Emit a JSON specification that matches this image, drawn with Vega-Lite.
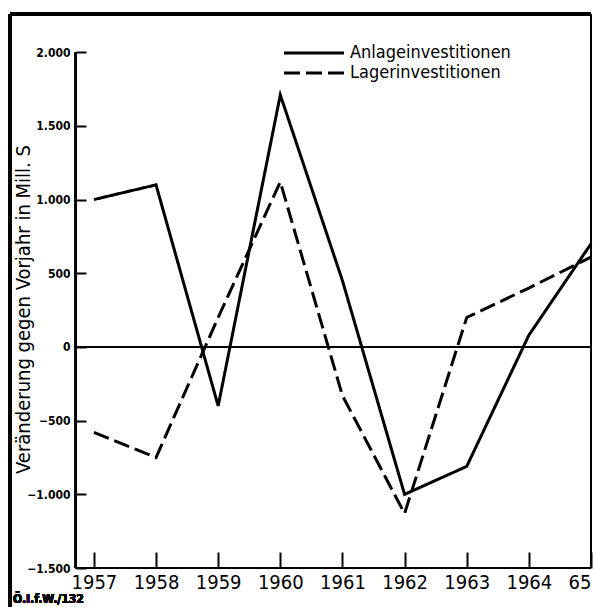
{
  "$schema": "https://vega.github.io/schema/vega-lite/v6.json",
  "width": 581,
  "height": 593,
  "autosize": {"type": "none"},
  "padding": {"left": 10, "top": 14, "right": 4, "bottom": 0},
  "background": "white",
  "config": {
    "font": "DejaVu Sans Condensed",
    "view": {"stroke": null}
  },
  "data": {
    "values": [
      {"year": 1957, "series": "Anlageinvestitionen", "value": 1000},
      {"year": 1958, "series": "Anlageinvestitionen", "value": 1100},
      {"year": 1959, "series": "Anlageinvestitionen", "value": -400},
      {"year": 1960, "series": "Anlageinvestitionen", "value": 1710},
      {"year": 1961, "series": "Anlageinvestitionen", "value": 450},
      {"year": 1962, "series": "Anlageinvestitionen", "value": -1000},
      {"year": 1963, "series": "Anlageinvestitionen", "value": -810},
      {"year": 1964, "series": "Anlageinvestitionen", "value": 80},
      {"year": 1965, "series": "Anlageinvestitionen", "value": 700},
      {"year": 1957, "series": "Lagerinvestitionen", "value": -580},
      {"year": 1958, "series": "Lagerinvestitionen", "value": -750},
      {"year": 1959, "series": "Lagerinvestitionen", "value": 200},
      {"year": 1960, "series": "Lagerinvestitionen", "value": 1120},
      {"year": 1961, "series": "Lagerinvestitionen", "value": -330},
      {"year": 1962, "series": "Lagerinvestitionen", "value": -1130},
      {"year": 1963, "series": "Lagerinvestitionen", "value": 200},
      {"year": 1964, "series": "Lagerinvestitionen", "value": 400},
      {"year": 1965, "series": "Lagerinvestitionen", "value": 610}
    ]
  },
  "layer": [
    {
      "mark": {"type": "line", "color": "black", "strokeWidth": 3, "strokeJoin": "miter"},
      "encoding": {
        "x": {
          "field": "year", "type": "quantitative",
          "scale": {"domain": [1955.65, 1965], "nice": false, "zero": false},
          "axis": {
            "title": null, "grid": false, "domain": false,
            "values": [1957, 1958, 1959, 1960, 1961, 1962, 1963, 1964, 1965],
            "labelExpr": "datum.value == 1965 ? '65' : '' + datum.value",
            "labelFlush": true,
            "offset": -39, "tickSize": -16, "tickWidth": 2, "tickColor": "black",
            "labelPadding": 20, "labelFontSize": 20, "labelColor": "black",
            "labelFont": "DejaVu Sans Condensed"
          }
        },
        "y": {
          "field": "value", "type": "quantitative",
          "scale": {"domain": [-1764, 2259], "nice": false, "zero": false},
          "axis": {
            "title": "Veränderung gegen Vorjahr in Mill. S",
            "titleFontSize": 20, "titleFontWeight": "normal", "titleColor": "black",
            "titleX": -47, "titleY": 295, "titleBaseline": "alphabetic", "titleAngle": -90,
            "grid": false, "domain": false,
            "values": [-1500, -1000, -500, 0, 500, 1000, 1500, 2000],
            "labelExpr": "replace(format(datum.value, ','), ',', '.')",
            "offset": -66, "tickSize": -10, "tickWidth": 2, "tickColor": "black",
            "labelPadding": 16, "labelFontSize": 12, "labelFontWeight": "bold", "labelColor": "black"
          }
        },
        "strokeDash": {
          "field": "series", "type": "nominal",
          "scale": {"domain": ["Anlageinvestitionen", "Lagerinvestitionen"], "range": [[1, 0], [16, 6]]},
          "legend": {
            "title": null, "orient": "none", "legendX": 295, "legendY": 30,
            "symbolType": "M-6,0H6", "symbolSize": 100, "symbolStrokeWidth": 3,
            "symbolStrokeColor": "black", "labelOffset": 27, "labelFontSize": 18,
            "labelLimit": 400,
            "labelColor": "black", "rowPadding": 2
          }
        },
        "detail": {"field": "series"}
      }
    },
    {
      "mark": {"type": "rule", "color": "black", "strokeWidth": 2},
      "encoding": {
        "x": {"datum": 1956.71, "type": "quantitative"},
        "y": {"datum": 2000, "type": "quantitative"},
        "y2": {"datum": -1500}
      }
    },
    {
      "mark": {"type": "rule", "color": "black", "strokeWidth": 2},
      "encoding": {
        "x": {"datum": 1956.71, "type": "quantitative"},
        "x2": {"datum": 1965},
        "y": {"datum": -1500, "type": "quantitative"}
      }
    },
    {
      "mark": {"type": "rule", "color": "black", "strokeWidth": 1.5},
      "encoding": {
        "x": {"datum": 1956.71, "type": "quantitative"},
        "x2": {"datum": 1965},
        "y": {"datum": 0, "type": "quantitative"}
      }
    },
    {
      "mark": {"type": "rule", "color": "black", "strokeWidth": 2.5},
      "encoding": {
        "x": {"datum": 1955.65, "type": "quantitative"},
        "x2": {"datum": 1965},
        "y": {"datum": 2259, "type": "quantitative"}
      }
    },
    {
      "mark": {"type": "rule", "color": "black", "strokeWidth": 2.5},
      "encoding": {
        "x": {"datum": 1955.65, "type": "quantitative"},
        "y": {"datum": 2259, "type": "quantitative"},
        "y2": {"datum": -1764}
      }
    },
    {
      "mark": {"type": "rule", "color": "black", "strokeWidth": 2},
      "encoding": {
        "x": {"datum": 1965, "type": "quantitative"},
        "y": {"datum": 2259, "type": "quantitative"},
        "y2": {"datum": -1500}
      }
    },
    {
      "mark": {"type": "text", "align": "left", "baseline": "middle", "fontSize": 12, "fontWeight": "bold", "color": "black", "dx": 3},
      "encoding": {
        "x": {"datum": 1955.65, "type": "quantitative"},
        "y": {"datum": -1710, "type": "quantitative"},
        "text": {"value": "Ö.I.f.W./132"}
      }
    }
  ]
}
